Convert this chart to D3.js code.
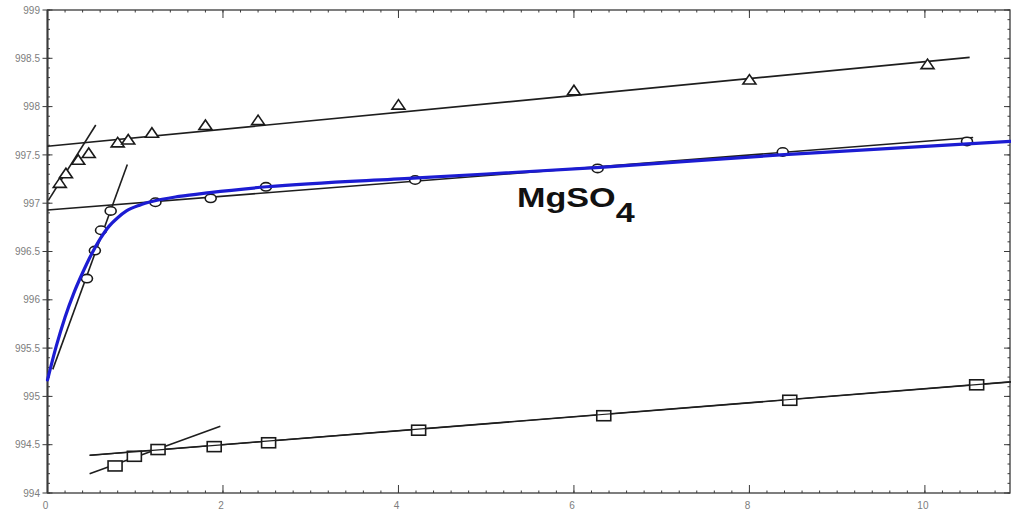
<!DOCTYPE html>
<html>
<head>
<meta charset="utf-8">
<script src="https://cdn.jsdelivr.net/npm/d3@7"></script>
<style>
  html, body { margin: 0; padding: 0; background: #ffffff; }
  svg { display: block; }
</style>
</head>
<body>
<svg id="chart" width="1011" height="513"></svg>
<script>
// Measured series (x, density)
const triangleX = [0.14, 0.21, 0.35, 0.47, 0.80, 0.92, 1.19, 1.80, 2.40, 4.00, 6.00, 8.00, 10.03];
const triangleY = [997.21, 997.31, 997.45, 997.52, 997.63, 997.66, 997.73, 997.81, 997.86, 998.02, 998.17, 998.28, 998.44];

const circleX = [0.45, 0.54, 0.61, 0.72, 1.23, 1.86, 2.49, 4.19, 6.27, 8.38, 10.48];
const circleY = [996.22, 996.51, 996.72, 996.92, 997.01, 997.05, 997.17, 997.24, 997.36, 997.53, 997.64];

const squareX = [0.77, 0.99, 1.26, 1.90, 2.52, 4.23, 6.34, 8.46, 10.59];
const squareY = [994.28, 994.38, 994.45, 994.48, 994.52, 994.65, 994.80, 994.96, 995.12];

// MgSO4 curve
const curveX = [0.0, 0.10, 0.20, 0.30, 0.40, 0.50, 0.60, 0.70, 0.80, 0.90, 1.05, 1.20, 1.50, 1.85, 2.50, 4.17, 6.30, 8.35, 10.98];
const curveY = [995.17, 995.52, 995.82, 996.07, 996.28, 996.47, 996.63, 996.76, 996.85, 996.92, 996.98, 997.02, 997.07, 997.11, 997.17, 997.26, 997.37, 997.50, 997.64];

// Straight guide lines: [x0, y0, x1, y1]
const guideLines = [
  [0.00, 997.59, 10.51, 998.51],   // triangles, trend
  [0.01, 997.03, 0.55, 997.81],    // triangles, initial slope
  [0.00, 996.93, 10.55, 997.68],   // circles, trend
  [0.06, 995.28, 0.91, 997.40],    // circles, initial slope
  [0.48, 994.39, 10.98, 995.15],   // squares, trend
  [0.48, 994.20, 1.97, 994.69]     // squares, initial slope
];

const xTickValues = [0, 2, 4, 6, 8, 10];
const yTickValues = [994, 994.5, 995, 995.5, 996, 996.5, 997, 997.5, 998, 998.5, 999];
const yTickLabels = ["994", "994.5", "995", "995.5", "996", "996.5", "997", "997.5", "998", "998.5", "999"];

const svg = d3.select("#chart");
const plotL = 47.5, plotR = 1010, plotT = 10, plotB = 493;

const x = d3.scaleLinear().domain([0, 10.97]).range([plotL, plotR]);
const y = d3.scaleLinear().domain([994, 999]).range([plotB, plotT]);

const frameColor = "#3a3a3a";
const labelColor = "#7d7d7d";

// minor ticks
const xMinor = d3.range(0, 10.97, 0.2);
const yMinor = d3.range(994, 999.001, 0.1);

const ticks = svg.append("g").attr("stroke", frameColor).attr("stroke-width", 1);
function vTicks(cls, data, y0, len) {
  ticks.selectAll("." + cls).data(data).join("line").attr("class", cls)
    .attr("x1", d => x(d)).attr("x2", d => x(d))
    .attr("y1", y0).attr("y2", y0 + len);
}
function hTicks(cls, data, x0, x1) {
  ticks.selectAll("." + cls).data(data).join("line").attr("class", cls)
    .attr("x1", x0).attr("x2", x1)
    .attr("y1", d => y(d)).attr("y2", d => y(d));
}
vTicks("xb", xMinor, plotB, -2.5);
vTicks("xt", xMinor, plotT, 2.5);
vTicks("xbM", xTickValues, plotB, -8);
vTicks("xtM", xTickValues, plotT, 8);
hTicks("yl", yMinor, plotL, plotL + 2.5);
hTicks("ylM", yTickValues, plotL - 5, plotL + 5);
hTicks("yr", yMinor, plotR, plotR - 2.5);
hTicks("yrM", yTickValues, plotR, plotR - 6);

// frame
svg.append("rect")
  .attr("x", plotL).attr("y", plotT)
  .attr("width", plotR - plotL).attr("height", plotB - plotT)
  .attr("fill", "none").attr("stroke", frameColor).attr("stroke-width", 1.3);
svg.append("line")
  .attr("x1", plotL).attr("x2", plotL).attr("y1", plotT).attr("y2", plotB)
  .attr("stroke", frameColor).attr("stroke-width", 2);

// tick labels
svg.append("g").selectAll("text").data(xTickValues).join("text")
  .attr("x", d => x(d) - 2).attr("y", 506)
  .attr("text-anchor", "middle").attr("dominant-baseline", "middle")
  .attr("font-family", "Liberation Sans, Arial, sans-serif")
  .attr("font-size", 10).attr("fill", labelColor)
  .text(d => d);
svg.append("g").selectAll("text").data(yTickValues).join("text")
  .attr("x", 40).attr("y", d => y(d) + 1)
  .attr("text-anchor", "end").attr("dominant-baseline", "middle")
  .attr("font-family", "Liberation Sans, Arial, sans-serif")
  .attr("font-size", 10).attr("fill", labelColor)
  .text((d, i) => yTickLabels[i]);

// guide lines
svg.append("g").selectAll("line").data(guideLines).join("line")
  .attr("x1", d => x(d[0])).attr("y1", d => y(d[1]))
  .attr("x2", d => x(d[2])).attr("y2", d => y(d[3]))
  .attr("stroke", "#1e1e1e").attr("stroke-width", 1.6);

// markers
const ink = "#1a1a1a";
const tri = d3.zip(triangleX, triangleY);
svg.append("g").selectAll("path").data(tri).join("path")
  .attr("d", d => {
    const cx = x(d[0]), cy = y(d[1]);
    return `M${cx - 6.5},${cy + 4.5}L${cx + 6.5},${cy + 4.5}L${cx},${cy - 5}Z`;
  })
  .attr("fill", "#ffffff").attr("stroke", ink).attr("stroke-width", 1.6);

const circ = d3.zip(circleX, circleY);
svg.append("g").selectAll("ellipse").data(circ).join("ellipse")
  .attr("cx", d => x(d[0])).attr("cy", d => y(d[1]))
  .attr("rx", 5.5).attr("ry", 4.2)
  .attr("fill", "#ffffff").attr("stroke", ink).attr("stroke-width", 1.6);

const sq = d3.zip(squareX, squareY);
svg.append("g").selectAll("rect").data(sq).join("rect")
  .attr("x", d => x(d[0]) - 7).attr("y", d => y(d[1]) - 5)
  .attr("width", 14).attr("height", 10)
  .attr("fill", "#ffffff").attr("stroke", ink).attr("stroke-width", 1.6);

// the squares' trend line runs over its markers
svg.append("g").selectAll("line").data([guideLines[4]]).join("line")
  .attr("x1", d => x(d[0])).attr("y1", d => y(d[1]))
  .attr("x2", d => x(d[2])).attr("y2", d => y(d[3]))
  .attr("stroke", "#1e1e1e").attr("stroke-width", 1.2);

// MgSO4 curve
const line = d3.line().x(d => x(d[0])).y(d => y(d[1])).curve(d3.curveMonotoneX);
svg.append("path")
  .datum(d3.zip(curveX, curveY))
  .attr("d", line)
  .attr("fill", "none").attr("stroke", "#1c1cd2").attr("stroke-width", 3.2)
  .attr("stroke-linejoin", "round").attr("stroke-linecap", "round");

// label
const lab = svg.append("text")
  .attr("transform", "translate(517,207) scale(1.22,1)")
  .attr("font-family", "Liberation Sans, Arial, sans-serif")
  .attr("font-weight", "bold").attr("font-size", 28).attr("fill", "#111");
lab.append("tspan").text("MgSO");
lab.append("tspan").attr("dy", 15).attr("font-size", 28).text("4");
</script>
</body>
</html>
